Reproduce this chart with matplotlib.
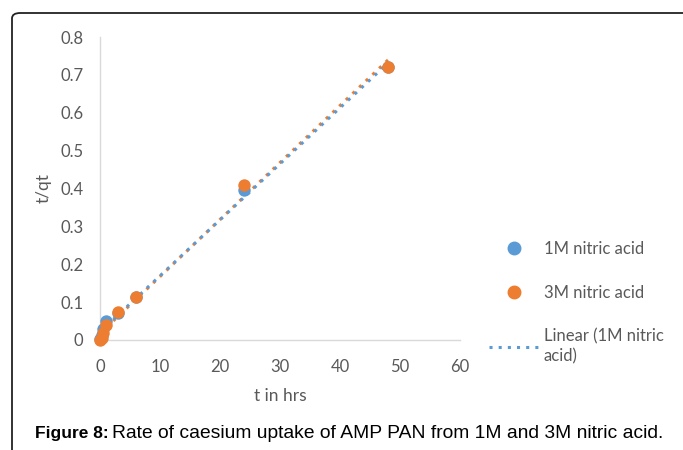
import numpy as np
import matplotlib
matplotlib.use("Agg")
import matplotlib.pyplot as plt
from matplotlib.patches import FancyBboxPatch
from matplotlib.lines import Line2D

# Data
t_hours = [0.083, 0.25, 0.5, 1, 3, 6, 24, 48]
tq_1M = [0.003, 0.012, 0.03, 0.05, 0.072, 0.113, 0.397, 0.72]
tq_3M = [0.0, 0.005, 0.018, 0.04, 0.075, 0.113, 0.41, 0.722]
x_ticks = [0, 10, 20, 30, 40, 50, 60]
y_ticks = [0, 0.1, 0.2, 0.3, 0.4, 0.5, 0.6, 0.7, 0.8]
series_names = ["1M nitric acid", "3M nitric acid", "Linear (1M nitric\nacid)"]
caption_bold = "Figure 8:"
caption_text = "Rate of caesium uptake of AMP PAN from 1M and 3M nitric acid."

BLUE = "#5B9BD5"
ORANGE = "#ED7D31"
GRAY_TXT = "#595959"
AXIS_GRAY = "#D9D9D9"
FONT = ["Lato", "DejaVu Sans"]

W, H = 683, 450
fig = plt.figure(figsize=(W / 100, H / 100), dpi=100)

# outer frame (top and left visible)
frame = FancyBboxPatch((12 / W, -0.2), 1.2, (H - 13) / H + 0.2,
                       boxstyle="round,pad=0,rounding_size=0.012",
                       transform=fig.transFigure, fill=False,
                       edgecolor="#222222", linewidth=1.3)
fig.patches.append(frame)

ax = fig.add_axes([100 / W, (H - 340) / H, 360 / W, 303 / H])
ax.set_xlim(0, 60)
ax.set_ylim(0, 0.8)
for s in ["top", "right"]:
    ax.spines[s].set_visible(False)
for s in ["left", "bottom"]:
    ax.spines[s].set_color(AXIS_GRAY)
    ax.spines[s].set_linewidth(1.0)
ax.set_xticks(x_ticks)
ax.set_yticks(y_ticks)
ax.set_xticklabels([str(v) for v in x_ticks])
ax.set_yticklabels(["0" if v == 0 else f"{v:.1f}" for v in y_ticks])
ax.tick_params(length=0, labelsize=12, labelcolor=GRAY_TXT)
ax.tick_params(axis="x", pad=14)
ax.tick_params(axis="y", pad=12)
for lab in ax.get_xticklabels() + ax.get_yticklabels():
    lab.set_fontfamily(FONT)

# trend lines
t_arr = np.array(t_hours)
for ys, col in [(tq_3M, ORANGE), (tq_1M, BLUE)]:
    m, b = np.polyfit(t_arr, np.array(ys), 1)
    xs = np.array([0, max(t_hours)])
    ax.plot(xs, m * xs + b, linestyle=(0, (1, 2)), color=col, linewidth=2.2,
            zorder=3, clip_on=False)

ax.scatter(t_hours, tq_1M, s=80, color=BLUE, zorder=4, clip_on=False, linewidths=0)
ax.scatter(t_hours, tq_3M, s=80, color=ORANGE, zorder=5, clip_on=False, linewidths=0)

ax.set_xlabel("t in hrs", fontsize=12.5, color=GRAY_TXT, family=FONT, labelpad=9)
ax.set_ylabel("t/qt", fontsize=12.5, color=GRAY_TXT, family=FONT, labelpad=6)

# legend (manual)
handles = [
    Line2D([], [], marker="o", color=BLUE, linestyle="none", markersize=9),
    Line2D([], [], marker="o", color=ORANGE, linestyle="none", markersize=9),
    Line2D([], [], color=BLUE, linestyle=(0, (1, 2)), linewidth=2.2),
]
leg = fig.legend(handles, series_names, loc="upper left",
                 bbox_to_anchor=(474 / W, 1 - 226 / H), frameon=False,
                 prop={"family": FONT, "size": 12}, labelcolor=GRAY_TXT,
                 handlelength=3.0, labelspacing=1.65, handletextpad=0.3)
leg.get_texts()[2].set_linespacing(1.35)

# caption
CAP_FONT = ["Liberation Sans", "DejaVu Sans"]
fig.text(35 / W, 1 - 438 / H, caption_bold, fontsize=12.5, fontweight="bold",
         family=CAP_FONT, va="baseline", ha="left")
fig.text(112 / W, 1 - 438 / H, caption_text, fontsize=13.9,
         family=CAP_FONT, va="baseline", ha="left")

fig.savefig("out.png", dpi=100)
